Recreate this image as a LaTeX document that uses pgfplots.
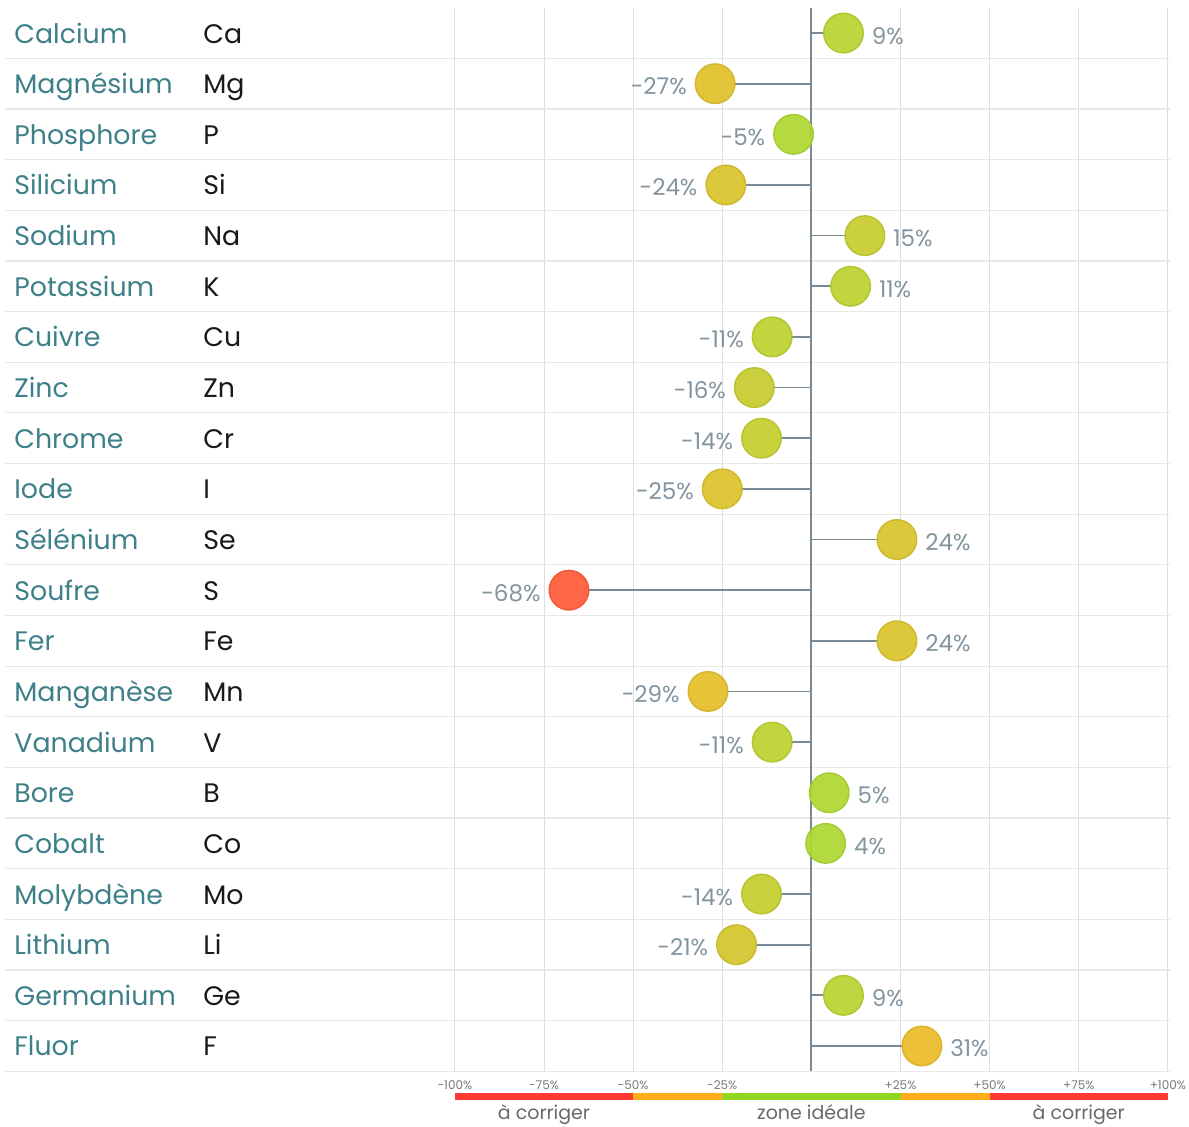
\documentclass[border=0pt]{standalone}
\usepackage{pgfplots}
\usepackage{pgfplotstable}
\pgfplotsset{compat=1.18}
\usepackage{fontspec}
\setmainfont{Poppins}

\definecolor{nameteal}{RGB}{62,128,137}
\definecolor{symblack}{RGB}{25,25,25}
\definecolor{gridgray}{RGB}{222,222,224}
\definecolor{sepgray}{RGB}{232,232,232}
\definecolor{zerogray}{RGB}{122,138,148}
\definecolor{stemgray}{RGB}{120,138,150}
\definecolor{pctgray}{RGB}{130,148,158}
\definecolor{tickgray}{RGB}{120,120,120}
\definecolor{botgray}{RGB}{105,105,105}
\definecolor{barred}{RGB}{255,58,48}
\definecolor{barorange}{RGB}{255,174,26}
\definecolor{bargreen}{RGB}{146,214,32}

\newcommand\rowlab[2]{\makebox[94.5pt][l]{\textcolor{nameteal}{#1}}\textcolor{symblack}{#2}}

\pgfplotstableread{
y x m
0 9 9
1 -27 27
2 -5 5
3 -24 24
4 15 15
5 11 11
6 -11 11
7 -16 16
8 -14 14
9 -25 25
10 24 24
11 -68 68
12 24 24
13 -29 29
14 -11 11
15 5 5
16 4 4
17 -14 14
18 -21 21
19 9 9
20 31 31
}\data

\begin{document}
\begin{tikzpicture}
\begin{axis}[
  at={(0,0)}, anchor=south west,
  scale only axis, width=582.5pt, height=531.8pt,
  xmin=-226.2, xmax=100.6,
  ymin=-0.5, ymax=20.5, y dir=reverse,
  axis line style={draw=none},
  clip=false,
  xtick={-100,-75,-50,-25,25,50,75,100},
  xticklabels={-100\%,-75\%,-50\%,-25\%,+25\%,+50\%,+75\%,+100\%},
  xmajorgrids,
  grid style={gridgray, line width=0.5pt},
  major tick length=0pt, minor tick length=0pt,
  xticklabel style={anchor=base, inner sep=0pt, yshift=-9.2pt, font=\fontsize{6}{7}\selectfont, text=tickgray},
  extra x ticks={0}, extra x tick labels={},
  extra x tick style={grid style={zerogray, line width=1pt}},
  ytick={0,...,20},
  yticklabels={\rowlab{Calcium}{Ca},\rowlab{Magnésium}{Mg},\rowlab{Phosphore}{P},\rowlab{Silicium}{Si},\rowlab{Sodium}{Na},\rowlab{Potassium}{K},\rowlab{Cuivre}{Cu},\rowlab{Zinc}{Zn},\rowlab{Chrome}{Cr},\rowlab{Iode}{I},\rowlab{Sélénium}{Se},\rowlab{Soufre}{S},\rowlab{Fer}{Fe},\rowlab{Manganèse}{Mn},\rowlab{Vanadium}{V},\rowlab{Bore}{B},\rowlab{Cobalt}{Co},\rowlab{Molybdène}{Mo},\rowlab{Lithium}{Li},\rowlab{Germanium}{Ge},\rowlab{Fluor}{F}},
  yticklabel style={anchor=base west, inner sep=0pt, xshift=4.5pt, yshift=-5pt, font=\fontsize{13.4}{16}\selectfont},
  minor ytick={0.5,1.5,2.5,3.5,4.5,5.5,6.5,7.5,8.5,9.5,10.5,11.5,12.5,13.5,14.5,15.5,16.5,17.5,18.5,19.5,20.5},
  yminorgrids,
  minor grid style={sepgray, line width=0.6pt},
  colormap={lolli}{rgb255(0cm)=(164,220,50) rgb255(31cm)=(234,188,40) rgb255(68cm)=(255,90,54)},
  point meta min=0, point meta max=68,
]
\addplot[xcomb, stemgray, line width=0.85pt] table[x expr={abs(\thisrow{x})>5.6 ? \thisrow{x}-sign(\thisrow{x})*5.4 : 0}, y=y]{\data};
\addplot[scatter, only marks, mark=*, mark size=9.9pt, point meta=explicit,
  scatter/use mapped color={draw=mapped color!93!black, fill=mapped color},
  mark options={line width=0.7pt}, opacity=0.92]
  table[x=x,y=y,meta=m]{\data};
\addplot[only marks, mark=none, point meta=x, restrict x to domain=0:200,
  nodes near coords={\pgfmathprintnumber[fixed,precision=0,assume math mode=true]{\pgfplotspointmeta}\%},
  every node near coord/.append style={anchor=base west, inner sep=0pt, xshift=14pt, yshift=-5.5pt, font=\fontsize{11.5}{14}\selectfont, text=pctgray}]
  table[x=x,y=y]{\data};
\addplot[only marks, mark=none, point meta=x, restrict x to domain=-200:0,
  nodes near coords={\pgfmathprintnumber[fixed,precision=0,assume math mode=true]{\pgfplotspointmeta}\%},
  every node near coord/.append style={anchor=base east, inner sep=0pt, xshift=-14pt, yshift=-5.5pt, font=\fontsize{11.5}{14}\selectfont, text=pctgray}]
  table[x=x,y=y]{\data};
\fill[barred] (axis cs:-100,20.928) rectangle (axis cs:-50,21.066);
\fill[barorange] (axis cs:-50,20.928) rectangle (axis cs:-25,21.066);
\fill[bargreen] (axis cs:-25,20.928) rectangle (axis cs:25,21.066);
\fill[barorange] (axis cs:25,20.928) rectangle (axis cs:50,21.066);
\fill[barred] (axis cs:50,20.928) rectangle (axis cs:100,21.066);
\node[anchor=base, inner sep=0pt, font=\fontsize{9.5}{11}\selectfont, text=botgray] at (axis cs:-75,21.46) {à corriger};
\node[anchor=base, inner sep=0pt, font=\fontsize{9.5}{11}\selectfont, text=botgray] at (axis cs:0,21.46) {zone idéale};
\node[anchor=base, inner sep=0pt, font=\fontsize{9.5}{11}\selectfont, text=botgray] at (axis cs:75,21.46) {à corriger};
\end{axis}
\pgfresetboundingbox
\useasboundingbox (-2.5pt,-27.35pt) rectangle (592pt,535.65pt);
\end{tikzpicture}
\end{document}
